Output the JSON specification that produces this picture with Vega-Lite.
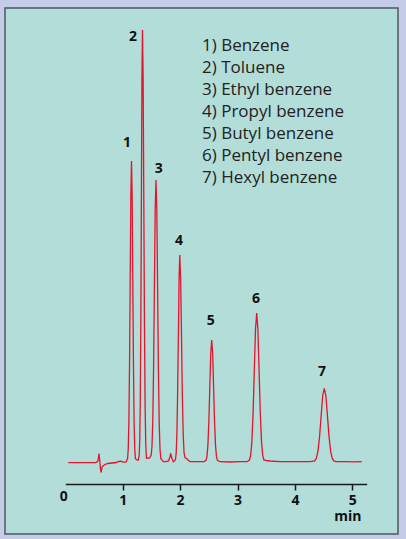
{
  "$schema": "https://vega.github.io/schema/vega-lite/v6.json",
  "width": 393,
  "height": 526,
  "autosize": {"type": "none"},
  "padding": {"left": 5, "top": 8, "right": 8, "bottom": 5},
  "background": "#c5cce8",
  "config": {
    "view": {"fill": "#b3ddd8", "stroke": "#4d5860", "strokeWidth": 1.5},
    "font": "Open Sans"
  },
  "datasets": {
    "trace": [
      {"t": 0.0523, "v": 0.3}, {"t": 0.2561, "v": 0.3}, {"t": 0.4303, "v": 0.3}, {"t": 0.5348, "v": 0.5},
      {"t": 0.5697, "v": 2}, {"t": 0.5871, "v": 9.5}, {"t": 0.5993, "v": 3}, {"t": 0.6132, "v": -6},
      {"t": 0.6254, "v": -9.5}, {"t": 0.6394, "v": -4}, {"t": 0.6568, "v": -3}, {"t": 0.6916, "v": -1.5},
      {"t": 0.7439, "v": -0.5}, {"t": 0.8136, "v": 0}, {"t": 0.8833, "v": 0.5}, {"t": 0.9355, "v": 1.5},
      {"t": 0.9704, "v": 1.8}, {"t": 1.0052, "v": 0.8}, {"t": 1.0575, "v": 0.9}, {"t": 1.0854, "v": 4.4},
      {"t": 1.0967, "v": 14.3}, {"t": 1.108, "v": 41.9}, {"t": 1.1193, "v": 99}, {"t": 1.1307, "v": 184},
      {"t": 1.142, "v": 267.5}, {"t": 1.1533, "v": 302}, {"t": 1.1646, "v": 267}, {"t": 1.176, "v": 184},
      {"t": 1.1873, "v": 99}, {"t": 1.1986, "v": 42}, {"t": 1.2099, "v": 14}, {"t": 1.2213, "v": 4.5},
      {"t": 1.2352, "v": 3.5}, {"t": 1.2578, "v": 3}, {"t": 1.2718, "v": 3}, {"t": 1.2875, "v": 7.8},
      {"t": 1.297, "v": 22}, {"t": 1.3066, "v": 61.6}, {"t": 1.3162, "v": 143.6}, {"t": 1.3258, "v": 265.6},
      {"t": 1.3354, "v": 385}, {"t": 1.3449, "v": 433}, {"t": 1.3563, "v": 382}, {"t": 1.3676, "v": 263},
      {"t": 1.3789, "v": 141}, {"t": 1.3902, "v": 59}, {"t": 1.4016, "v": 19}, {"t": 1.4129, "v": 5},
      {"t": 1.4268, "v": 5}, {"t": 1.446, "v": 4.7}, {"t": 1.4669, "v": 5}, {"t": 1.4965, "v": 7.8},
      {"t": 1.5105, "v": 17}, {"t": 1.5244, "v": 43}, {"t": 1.5383, "v": 96.6}, {"t": 1.5523, "v": 176.3},
      {"t": 1.5662, "v": 254.5}, {"t": 1.5801, "v": 283}, {"t": 1.5941, "v": 254}, {"t": 1.608, "v": 174},
      {"t": 1.622, "v": 94}, {"t": 1.6359, "v": 40}, {"t": 1.6498, "v": 14}, {"t": 1.6638, "v": 4.5},
      {"t": 1.7073, "v": 1.3}, {"t": 1.7544, "v": 1.3}, {"t": 1.7979, "v": 2}, {"t": 1.824, "v": 6},
      {"t": 1.8362, "v": 9.5}, {"t": 1.8554, "v": 5}, {"t": 1.8815, "v": 1.3}, {"t": 1.9024, "v": 2},
      {"t": 1.9199, "v": 3.6}, {"t": 1.9321, "v": 10.4}, {"t": 1.9443, "v": 29.3}, {"t": 1.9564, "v": 68.8},
      {"t": 1.9704, "v": 127.5}, {"t": 1.9826, "v": 184.8}, {"t": 1.9948, "v": 208}, {"t": 2.0096, "v": 184},
      {"t": 2.0244, "v": 127}, {"t": 2.0392, "v": 68}, {"t": 2.054, "v": 29}, {"t": 2.0688, "v": 10},
      {"t": 2.0854, "v": 5.5}, {"t": 2.1115, "v": 4.5}, {"t": 2.1376, "v": 3}, {"t": 2.1725, "v": 1.5},
      {"t": 2.2596, "v": 1.3}, {"t": 2.3467, "v": 1.3}, {"t": 2.4164, "v": 1.3}, {"t": 2.4512, "v": 2.7},
      {"t": 2.4686, "v": 6.7}, {"t": 2.4843, "v": 17.9}, {"t": 2.5009, "v": 41.3}, {"t": 2.5174, "v": 75.9},
      {"t": 2.534, "v": 109.8}, {"t": 2.5505, "v": 123}, {"t": 2.5671, "v": 109.8}, {"t": 2.5836, "v": 75.9},
      {"t": 2.6002, "v": 41.3}, {"t": 2.6167, "v": 17.9}, {"t": 2.6333, "v": 6.7}, {"t": 2.6498, "v": 2.7},
      {"t": 2.6951, "v": 1.3}, {"t": 2.8693, "v": 1.0}, {"t": 3.0436, "v": 1.3}, {"t": 3.1655, "v": 1.3},
      {"t": 3.2091, "v": 3}, {"t": 3.23, "v": 7.9}, {"t": 3.2509, "v": 21.6}, {"t": 3.2718, "v": 50},
      {"t": 3.2927, "v": 92.3}, {"t": 3.3136, "v": 133.7}, {"t": 3.3345, "v": 150}, {"t": 3.3554, "v": 133.7},
      {"t": 3.3763, "v": 92.3}, {"t": 3.3972, "v": 50}, {"t": 3.4181, "v": 21.6}, {"t": 3.439, "v": 7.9},
      {"t": 3.4599, "v": 3}, {"t": 3.4965, "v": 2.5}, {"t": 3.5662, "v": 2}, {"t": 3.7404, "v": 1.3},
      {"t": 4.0017, "v": 1.3}, {"t": 4.2631, "v": 1.3}, {"t": 4.3449, "v": 2.1}, {"t": 4.3728, "v": 4.6},
      {"t": 4.4007, "v": 11.4}, {"t": 4.4286, "v": 25.6}, {"t": 4.4564, "v": 46.6}, {"t": 4.4843, "v": 67.2},
      {"t": 4.5122, "v": 74.7}, {"t": 4.5401, "v": 67.2}, {"t": 4.5679, "v": 46.6}, {"t": 4.5958, "v": 25.6},
      {"t": 4.6237, "v": 11.4}, {"t": 4.6516, "v": 4.6}, {"t": 4.6794, "v": 2.1}, {"t": 4.716, "v": 1.3},
      {"t": 4.8728, "v": 1.3}, {"t": 5.047, "v": 1.2}, {"t": 5.1638, "v": 1.3}
    ],
    "peaks": [
      {"t": 1.075, "v": 316, "label": "1", "compound": "1) Benzene"},
      {"t": 1.179, "v": 422, "label": "2", "compound": "2) Toluene"},
      {"t": 1.627, "v": 290, "label": "3", "compound": "3) Ethyl benzene"},
      {"t": 1.981, "v": 218, "label": "4", "compound": "4) Propyl benzene"},
      {"t": 2.533, "v": 138, "label": "5", "compound": "5) Butyl benzene"},
      {"t": 3.322, "v": 160, "label": "6", "compound": "6) Pentyl benzene"},
      {"t": 4.472, "v": 87, "label": "7", "compound": "7) Hexyl benzene"}
    ]
  },
  "layer": [
    {
      "data": {"name": "trace"},
      "mark": {"type": "line", "color": "#e3142d", "strokeWidth": 1.3, "interpolate": "linear"},
      "encoding": {
        "x": {
          "field": "t", "type": "quantitative",
          "scale": {"domain": [0, 5.25], "range": [60.3, 361.65], "nice": false, "zero": false},
          "axis": {
            "orient": "bottom", "offset": -50, "values": [0, 1, 2, 3, 4, 5], "format": "d", "grid": false,
            "domainColor": "#1a1a1a", "domainWidth": 1.5,
            "tickColor": "#1a1a1a", "tickWidth": 1.5, "tickSize": 6,
            "tickOpacity": {"condition": {"test": "datum.value === 0", "value": 0}, "value": 1},
            "labelFont": "Open Sans", "labelFontWeight": "bold", "labelFontSize": 14, "labelColor": "#111111",
            "labelFlush": false,
            "labelPadding": {"condition": {"test": "datum.value === 0", "value": -1}, "value": 3},
            "labelOffset": {"condition": {"test": "datum.value === 0", "value": -2}, "value": 0},
            "title": "min", "titleFont": "Open Sans", "titleFontWeight": "bold", "titleFontSize": 14,
            "titleColor": "#111111", "titleX": 356, "titleY": 36, "titleAlign": "right",
            "titleBaseline": "alphabetic", "titleAnchor": null
          }
        },
        "y": {
          "field": "v", "type": "quantitative",
          "scale": {"domain": [-71, 455], "nice": false, "zero": false},
          "axis": null
        }
      }
    },
    {
      "data": {"name": "peaks"},
      "mark": {"type": "text", "font": "Open Sans", "fontWeight": "bold", "fontSize": 14, "align": "center", "baseline": "alphabetic"},
      "encoding": {
        "x": {"field": "t", "type": "quantitative"},
        "y": {"field": "v", "type": "quantitative"},
        "text": {"field": "label"},
        "color": {
          "field": "compound", "type": "nominal",
          "scale": {
            "domain": ["1) Benzene", "2) Toluene", "3) Ethyl benzene", "4) Propyl benzene", "5) Butyl benzene", "6) Pentyl benzene", "7) Hexyl benzene"],
            "range": ["#111111", "#111111", "#111111", "#111111", "#111111", "#111111", "#111111"]
          },
          "legend": {
            "orient": "none", "legendX": 180, "legendY": 29, "title": null, "padding": 0,
            "symbolSize": 0, "symbolOpacity": 0, "symbolStrokeWidth": 0, "labelOffset": 0,
            "labelFont": "Open Sans", "labelFontSize": 17, "labelColor": "#222222",
            "rowPadding": 4, "labelLimit": 300
          }
        }
      }
    }
  ]
}
